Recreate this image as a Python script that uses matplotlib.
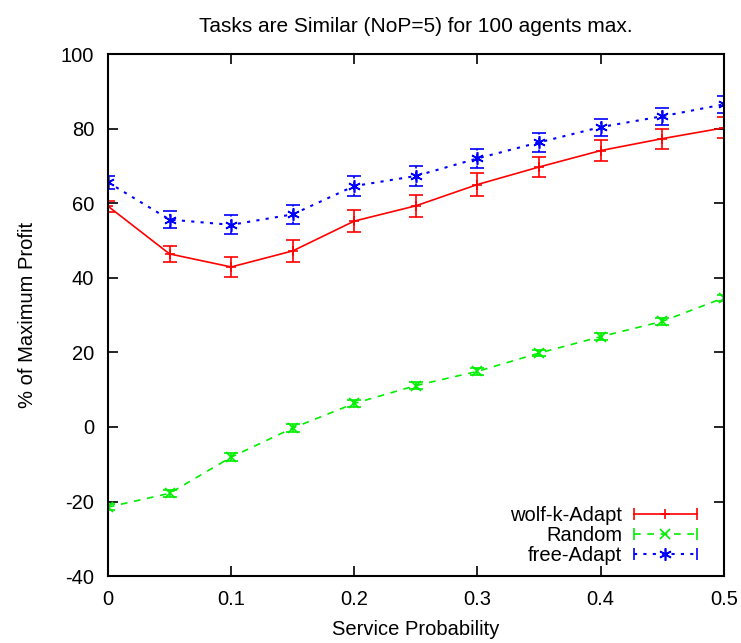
import numpy as np
import matplotlib.pyplot as plt
from matplotlib.lines import Line2D
from matplotlib.legend_handler import HandlerBase

plt.rcParams['font.family'] = ['Liberation Sans', 'DejaVu Sans']
plt.rcParams['axes.unicode_minus'] = False

# data
prob = [0, 0.05, 0.1, 0.15, 0.2, 0.25, 0.3, 0.35, 0.4, 0.45, 0.5]
wolf = [59.2, 46.4, 42.9, 47.2, 55.2, 59.3, 65.0, 69.7, 74.1, 77.3, 80.2]
wolf_err = [1.5, 2.2, 2.8, 3.0, 3.0, 3.0, 3.0, 2.8, 2.8, 2.7, 2.8]
rand = [-21.5, -17.8, -8.1, -0.3, 6.3, 11.1, 14.9, 19.8, 24.2, 28.3, 34.6]
rand_err = [0.9, 0.9, 1.0, 1.0, 1.0, 0.9, 0.9, 0.9, 0.9, 0.9, 0.9]
free = [65.6, 55.6, 54.2, 57.0, 64.6, 67.3, 72.0, 76.3, 80.4, 83.3, 86.5]
free_err = [1.8, 2.2, 2.5, 2.6, 2.7, 2.7, 2.6, 2.5, 2.3, 2.3, 2.3]

styles = {
    'wolf-k-Adapt': dict(color='#ff0000', ls='-', lw=1.2, marker='+', ms=7),
    'Random': dict(color='#00ee00', ls=(0, (4, 4)), lw=1.2, marker='x', ms=7.5),
    'free-Adapt': dict(color='#0000ff', ls=(0, (1.5, 3)), lw=1.5, marker=(6, 2, 0), ms=9),
}


class GnuplotHandler(HandlerBase):
    # line with end ticks and the point marker in the middle, like gnuplot keys
    def create_artists(self, legend, orig, xdescent, ydescent, width, height,
                       fontsize, trans):
        st = styles[orig.get_label()]
        y = height / 2 - ydescent
        x0, x1 = -xdescent, width - xdescent
        main = Line2D([x0, x1], [y, y], color=st['color'], lw=st['lw'], ls=st['ls'])
        mid = Line2D([(x0 + x1) / 2], [y], color=st['color'], marker=st['marker'],
                     ms=st['ms'], ls='none', mew=1.2)
        ends = Line2D([x0, x1], [y, y], color=st['color'], marker='|', ms=8,
                      ls='none', mew=1.2)
        for a in (main, mid, ends):
            a.set_transform(trans)
        return [main, mid, ends]


fig = plt.figure(figsize=(7.41, 6.43), dpi=100)
ax = fig.add_axes([0.1457, 0.104, 0.831, 0.812])

bars = []
for name, y, err in [('wolf-k-Adapt', wolf, wolf_err), ('Random', rand, rand_err),
                     ('free-Adapt', free, free_err)]:
    st = styles[name]
    e = ax.errorbar(prob, y, yerr=err, color=st['color'], lw=st['lw'], ls=st['ls'],
                    marker=st['marker'], ms=st['ms'], mew=1.2, capsize=5,
                    elinewidth=1.2, label=name)
    bars.append(e)
for c in bars[2][2]:
    c.set_linestyle((0, (1.5, 2)))

ax.set_xlim(0, 0.5)
ax.set_ylim(-40, 100)
ax.set_xticks([0, 0.1, 0.2, 0.3, 0.4, 0.5])
ax.set_xticklabels(['0', '0.1', '0.2', '0.3', '0.4', '0.5'])
ax.set_yticks(np.arange(-40, 101, 20))
ax.tick_params(direction='in', top=True, right=True, length=7, width=1.2,
               labelsize=14.5, pad=10)
for s in ax.spines.values():
    s.set_linewidth(1.5)

ax.set_xlabel('Service Probability', fontsize=14.5, labelpad=8)
ax.set_ylabel('% of Maximum Profit', fontsize=14.5, labelpad=17)
ax.set_title('Tasks are Similar (NoP=5) for 100 agents max.', fontsize=15, pad=16)

ax.legend(handles=bars, labels=list(styles),
          handler_map={type(bars[0]): GnuplotHandler()},
          loc='lower right', bbox_to_anchor=(0.974, 0.0), frameon=False,
          markerfirst=False, fontsize=14.5, handlelength=3.1, handletextpad=0.6,
          labelspacing=0.05, borderaxespad=0.15)

plt.savefig('out.png', dpi=100)
